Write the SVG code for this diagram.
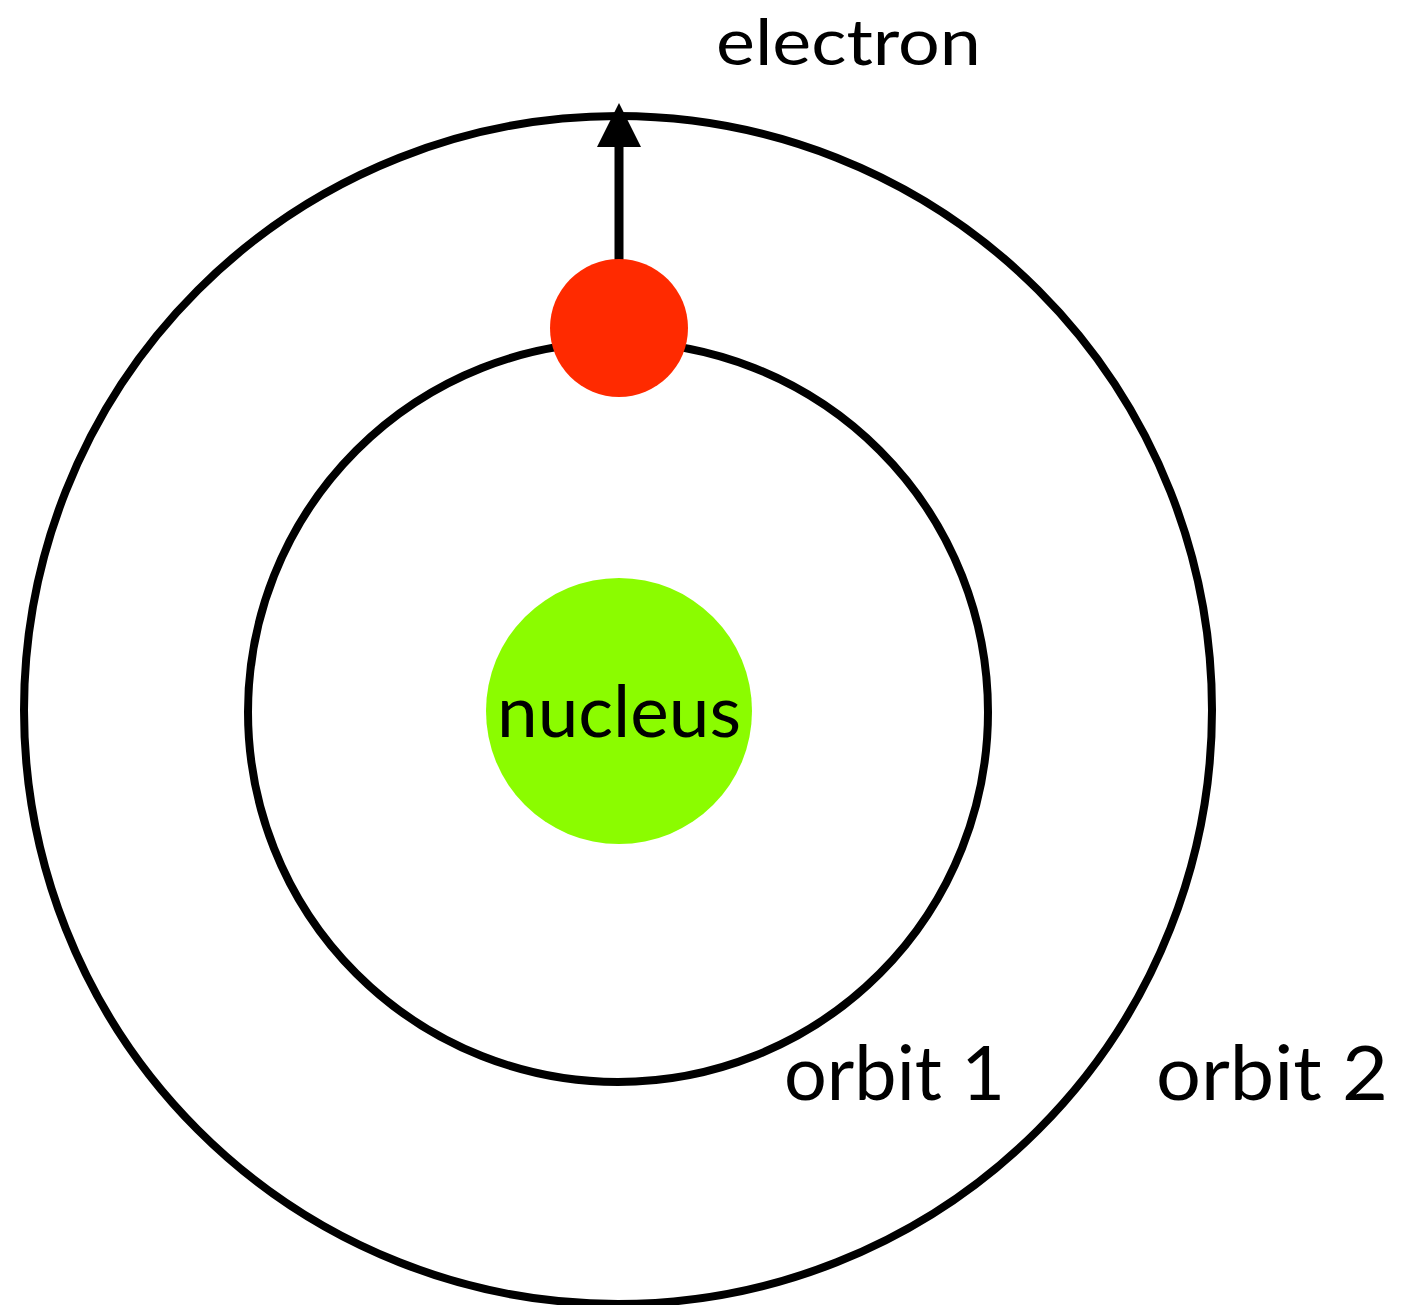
<svg xmlns="http://www.w3.org/2000/svg" width="1421" height="1305" viewBox="0 0 1421 1305">
<style>
.orbit{fill:none;stroke:#000;stroke-width:8}
.lbl{font-family:Lato,"Open Sans","Liberation Sans",sans-serif;fill:#000}
</style>
<defs>
<marker id="ah" markerUnits="userSpaceOnUse" markerWidth="44" markerHeight="44" refX="0" refY="22" orient="auto" viewBox="0 0 44 44">
<path d="M0,0 L44,22 L0,44 Z" fill="#000"/>
</marker>
</defs>
<rect width="1421" height="1305" fill="#fff"/>
<g id="orbit2"><circle class="orbit" cx="618" cy="710" r="594"/></g>
<g id="orbit1"><circle class="orbit" cx="618" cy="712" r="370"/></g>
<g id="nucleus"><circle cx="619" cy="711" r="133" fill="#8BFC00"/>
<text class="lbl" x="619" y="737" font-size="72" text-anchor="middle" textLength="244" lengthAdjust="spacingAndGlyphs">nucleus</text></g>
<g id="connectors"><line x1="619" y1="262" x2="619" y2="147" stroke="#000" stroke-width="9" marker-end="url(#ah)"/></g>
<g id="electron"><circle cx="619" cy="328" r="69" fill="#FF2A00"/></g>
<g id="labels">
<text class="lbl" x="716" y="65" font-size="64" textLength="265" lengthAdjust="spacingAndGlyphs">electron</text>
<text class="lbl" x="784" y="1100" font-size="76" textLength="221" lengthAdjust="spacingAndGlyphs">orbit 1</text>
<text class="lbl" x="1156" y="1100" font-size="76" textLength="232" lengthAdjust="spacingAndGlyphs">orbit 2</text>
</g>
</svg>
